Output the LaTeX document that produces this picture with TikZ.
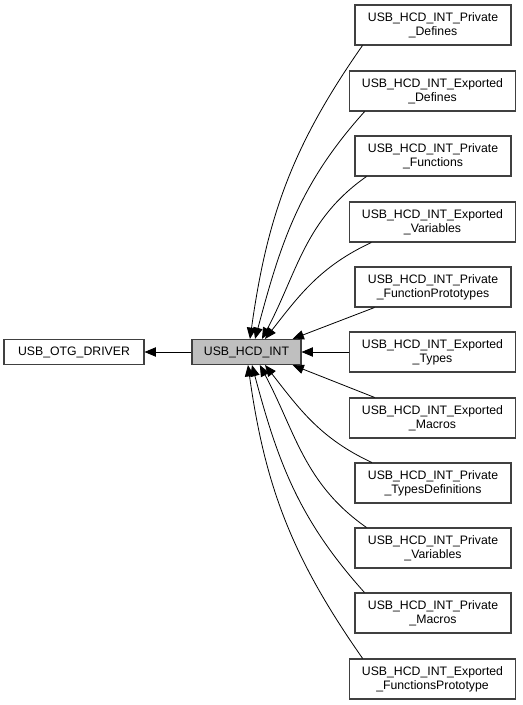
\documentclass[tikz,border=0pt]{standalone}
\usepackage{fontspec}
\setmainfont{Liberation Sans}
\usetikzlibrary{arrows.meta,positioning}
\definecolor{grpgray}{RGB}{191,191,191}
\definecolor{grpline}{RGB}{64,64,64}

\begin{document}
\begin{tikzpicture}[x=0.75pt,y=-0.75pt,
  grp/.style={draw=grpline,fill=white,line width=0.8pt,align=center,inner sep=0pt,
    font=\fontsize{9.2}{10.4}\selectfont,minimum height=30pt},
  wide/.style={grp,minimum width=125pt},
  narrow/.style={grp,minimum width=117pt},
  edge/.style={-{Triangle[length=8.5pt,width=7pt]},line width=0.6pt}]
\useasboundingbox (0,0) rectangle (523,705);
\node[grp,minimum width=105pt,minimum height=18.75pt] (otg) at (74,352) {USB\_OTG\_DRIVER};
\node[grp,fill=grpgray,minimum width=81.75pt,minimum height=18.75pt] (hcd) at (246.5,352) {USB\_HCD\_INT};
\node[narrow] (privdef) at (433,25) {USB\_HCD\_INT\_Private\\\_Defines};
\node[wide] (expdef) at (432.5,91) {USB\_HCD\_INT\_Exported\\\_Defines};
\node[narrow] (privfun) at (433,156) {USB\_HCD\_INT\_Private\\\_Functions};
\node[wide] (expvar) at (432.5,222) {USB\_HCD\_INT\_Exported\\\_Variables};
\node[narrow] (privproto) at (433,287) {USB\_HCD\_INT\_Private\\\_FunctionPrototypes};
\node[wide] (exptypes) at (432.5,352) {USB\_HCD\_INT\_Exported\\\_Types};
\node[wide] (expmacros) at (432.5,418) {USB\_HCD\_INT\_Exported\\\_Macros};
\node[narrow] (privtypes) at (433,483) {USB\_HCD\_INT\_Private\\\_TypesDefinitions};
\node[narrow] (privvar) at (433,548) {USB\_HCD\_INT\_Private\\\_Variables};
\node[narrow] (privmacros) at (433,613) {USB\_HCD\_INT\_Private\\\_Macros};
\node[wide] (expproto) at (432.5,679) {USB\_HCD\_INT\_Exported\\\_FunctionsPrototype};
% parent group
\draw[edge] (hcd) -- (otg);
% sub-groups above
\draw[edge] ([xshift=6pt]privdef.south west) to[out=235,in=82] ([xshift=2.6pt]hcd.north);
\draw[edge] ([xshift=12pt]expdef.south west) to[out=228,in=75] ([xshift=6.4pt]hcd.north);
\draw[edge] ([xshift=9pt]privfun.south west) to[out=215,in=62] ([xshift=11.6pt]hcd.north);
\draw[edge] ([xshift=17pt]expvar.south west) to[out=205,in=52] ([xshift=13.9pt]hcd.north);
\draw[edge] ([xshift=15pt]privproto.south west) -- ([xshift=-6.75pt]hcd.north east);
\draw[edge] (exptypes) -- (hcd);
% sub-groups below
\draw[edge] ([xshift=19.5pt]expmacros.north west) -- ([xshift=-6.75pt]hcd.south east);
\draw[edge] ([xshift=13pt]privtypes.north west) to[out=155,in=-52] ([xshift=13.9pt]hcd.south);
\draw[edge] ([xshift=9pt]privvar.north west) to[out=145,in=-62] ([xshift=10pt]hcd.south);
\draw[edge] ([xshift=7.5pt]privmacros.north west) to[out=132,in=-75] ([xshift=4.1pt]hcd.south);
\draw[edge] ([xshift=10.5pt]expproto.north west) to[out=125,in=-82] ([xshift=1.1pt]hcd.south);
\end{tikzpicture}
\end{document}
